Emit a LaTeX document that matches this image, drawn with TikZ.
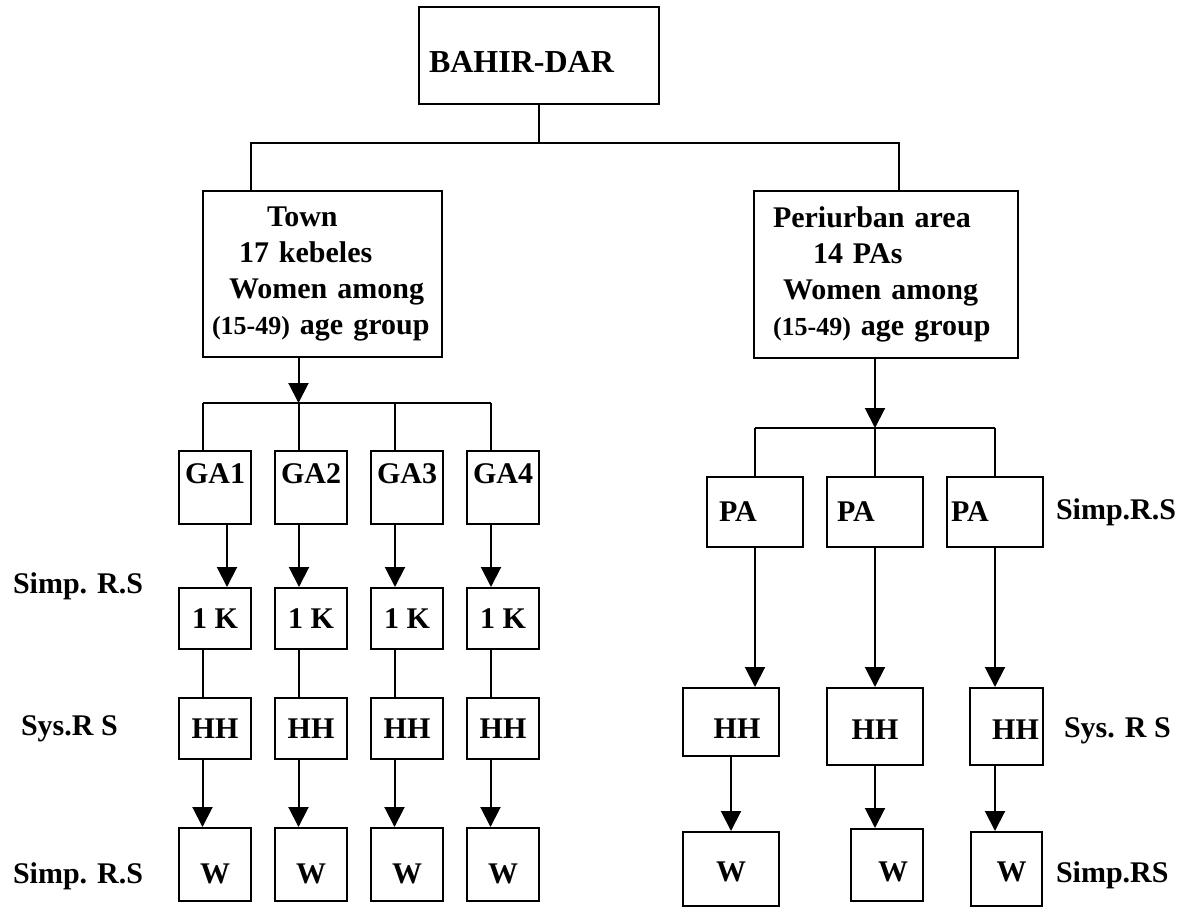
\documentclass[tikz,border=0pt]{standalone}
\usepackage{fontspec}
\setmainfont{Liberation Serif}
\usetikzlibrary{arrows.meta}

\begin{document}
\begin{tikzpicture}[
        x=0.5pt, y=-0.5pt, line width=1pt,
        every node/.style={font=\bfseries\fontsize{15}{18}\selectfont},
        box/.style={draw, inner sep=0pt},
        cell/.style={box, minimum width=36pt, minimum height=#1},
        arr/.style={-{Triangle[width=10pt,length=10pt]}},
        side/.style={anchor=base west, inner sep=0pt}
      ]
      \useasboundingbox (0,0) rectangle (1195,907);

      \node[box, minimum width=120pt, minimum height=48.5pt, text width=110pt, align=left,
        text height=16.5pt, text depth=0pt,
        font=\bfseries\fontsize{16}{19}\selectfont] (bd) at (539,55.5) {BAHIR-DAR};

      \node[box, minimum width=119.5pt, minimum height=83pt, text width=110.5pt, align=left] (town) at (322.5,274)
        {\hspace*{27.5pt}Town\\ \hspace*{13.5pt}17 kebeles\\ \hspace*{8.5pt}Women among\\
         {\fontsize{13}{18}\selectfont(15-49)} age group};
      \node[box, minimum width=132pt, minimum height=83.5pt, text width=113pt, align=left] (peri) at (886,274.5)
        {Periurban area\\ \hspace*{20pt}14 PAs\\ \hspace*{5pt}Women among\\
         {\fontsize{13}{18}\selectfont(15-49)} age group};

      \draw (bd.south) -- ++(0,39) coordinate (j0);
      \coordinate (ta) at (251,143);
      \coordinate (tb) at (899,143);
      \draw (town.north -| ta) -- (ta) -- (tb) -- (peri.north -| tb);

      \foreach \i/\x/\a in {1/215/227, 2/311/299, 3/407/395, 4/503/491} {
        \coordinate (g\i) at (\x-12.5,403);
        \coordinate (a\i) at (\a,0);
        \node[cell=36.5pt, text height=10.5pt, text depth=15pt] (ga\i) at (\x,487.5) {GA\i};
        \node[cell=30.5pt] (k\i) at (\x,618.5) {1 K};
        \node[cell=30.5pt] (hh\i) at (\x,728.5) {HH};
        \node[cell=36.5pt, text height=18.5pt, text depth=0pt] (w\i) at (\x,864.5) {W};
        \draw (g\i) -- (ga\i.north -| g\i);
        \draw[arr] (ga\i.south -| a\i) -- (k\i.north -| a\i);
        \draw (k\i.south -| g\i) -- (hh\i.north -| g\i);
        \draw[arr] (hh\i.south -| g\i) -- (w\i.north -| g\i);
      }
      \draw (g1) -- (g4);
      \draw[arr] (town.south -| g2) -- (g2);

      \foreach \i/\s in {1/17, 2/19, 3/25} {
        \coordinate (r\i) at (635+120*\i,428);
        \node[box, minimum width=48pt, minimum height=35pt] (pa\i) at ({635+120*\i},512) {PA\hspace*{\s pt}};
        \draw (r\i) -- (pa\i.north -| r\i);
      }
      \draw (r1) -- (r3);
      \draw[arr] (peri.south -| r2) -- (r2);

      \node[box, minimum width=48pt, minimum height=34pt, text height=16pt] (ph1) at (731,722) {\hspace*{6pt}HH};
      \node[box, minimum width=48pt, minimum height=38.5pt, text height=12.5pt] (ph2) at (875,726.5) {HH};
      \node[box, minimum width=36.5pt, minimum height=38.5pt, text height=12.5pt] (ph3) at (1006.5,726.5) {\hspace*{9pt}HH};

      \node[box, minimum width=48pt, minimum height=37pt, text height=13pt] (pw1) at (731,869) {W};
      \node[box, minimum width=36pt, minimum height=36pt, text height=17pt] (pw2) at (887,865) {\hspace*{6pt}W};
      \node[box, minimum width=35.5pt, minimum height=37pt, text height=13pt] (pw3) at (1006.5,869) {\hspace*{5pt}W};

      \foreach \i in {1,2,3}
        \draw[arr] (pa\i.south -| r\i) -- (ph\i.north -| r\i);
      \draw[arr] (ph1) -- (pw1);
      \draw[arr] (ph2.south -| r2) -- (pw2.north -| r2);
      \draw[arr] (ph3.south -| r3) -- (pw3.north -| r3);

      \node[side] (simpl1) at (12,593) {Simp. R.S};
      \node[side] (sysl) at (20,735) {Sys.R S};
      \node[side] (simpl2) at (12,883) {Simp. R.S};
      \node[side] (simpr1) at (1055,519) {Simp.R.S};
      \node[side] (sysr) at (1063,737) {Sys. R S};
      \node[side] (simpr2) at (1055,882) {Simp.RS};

    \end{tikzpicture}
\end{document}
